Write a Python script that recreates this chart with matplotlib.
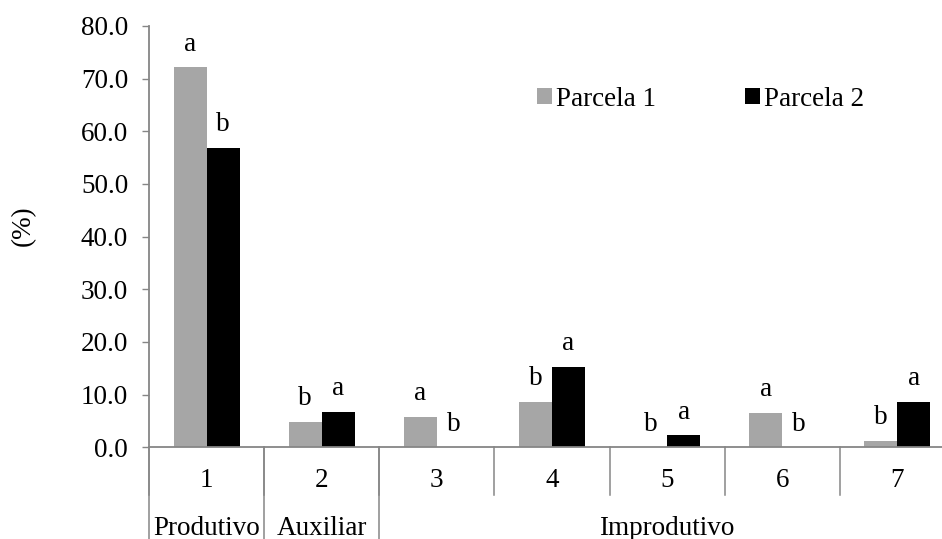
import numpy as np
import matplotlib.pyplot as plt
from matplotlib.transforms import blended_transform_factory

# data
cats = ["1", "2", "3", "4", "5", "6", "7"]
parcela1 = [72.1, 4.8, 5.8, 8.6, 0.0, 6.6, 1.2]
parcela2 = [56.9, 6.8, 0.0, 15.3, 2.3, 0.0, 8.7]
letras1 = ["a", "b", "a", "b", "b", "a", "b"]
letras2 = ["b", "a", "b", "a", "a", "b", "a"]
grupos = ["Produtivo", "Auxiliar", "Improdutivo"]
grupo_ini = [0, 1, 2]
grupo_fim = [0, 1, 6]

plt.rcParams['font.family'] = ['Liberation Serif', 'DejaVu Serif']
fs = 19.5
cinza = '#a6a6a6'
eixo = '#868686'

fig = plt.figure(figsize=(9.42, 5.39), dpi=100)
ax = fig.add_axes([149/942, 0.170, 806/942, 0.782])

x = np.arange(len(cats))
w = 0.286
b1 = ax.bar(x - w/2, parcela1, w, color=cinza, label="Parcela 1")
b2 = ax.bar(x + w/2, parcela2, w, color='black', label="Parcela 2")

for xi, v, t in zip(x - w/2, parcela1, letras1):
    ax.annotate(t, (xi, v), xytext=(0, 12), textcoords='offset points',
                ha='center', va='baseline', fontsize=fs)
for xi, v, t in zip(x + w/2, parcela2, letras2):
    ax.annotate(t, (xi, v), xytext=(0, 12), textcoords='offset points',
                ha='center', va='baseline', fontsize=fs)

ax.set_xlim(-0.5, len(cats) - 0.5)
ax.set_ylim(0, 80)
ax.set_yticks(np.arange(0, 81, 10))
ax.set_yticklabels(["%.1f" % v for v in np.arange(0, 81, 10)], fontsize=fs)
ax.tick_params(axis='y', length=5, width=1.0, color=eixo, pad=10)
ax.set_xticks([])
for s in ['top', 'right']:
    ax.spines[s].set_visible(False)
for s in ['left', 'bottom']:
    ax.spines[s].set_color(eixo)
    ax.spines[s].set_linewidth(1.3)

tr = blended_transform_factory(ax.transData, ax.transAxes)
# category separators and labels
for i in range(len(cats) + 1):
    ax.plot([i - 0.5, i - 0.5], [0, -0.114], color=eixo, lw=1.1,
            transform=tr, clip_on=False)
for i, c in enumerate(cats):
    ax.text(i, -0.078, c, transform=tr, ha='center', va='center', fontsize=fs)
# group separators and labels
for a, b, g in zip(grupo_ini, grupo_fim, grupos):
    ax.plot([a - 0.5, a - 0.5], [0, -0.3], color=eixo, lw=1.1,
            transform=tr, clip_on=False)
    ax.text((a + b) / 2, -0.192, g, transform=tr, ha='center', va='center',
            fontsize=fs)

fig.text(23/942, 1 - 226/539, "(%)", rotation=90, ha='center', va='center',
         fontsize=fs)

fig.legend(handles=[b1, b2], loc='center left', bbox_to_anchor=(537/942, 1 - 99/539),
           ncol=2, frameon=False, fontsize=fs, handlelength=0.55, handleheight=0.55,
           handletextpad=0.15, columnspacing=3.3, borderpad=0, borderaxespad=0)

fig.savefig("out.png", dpi=100)
